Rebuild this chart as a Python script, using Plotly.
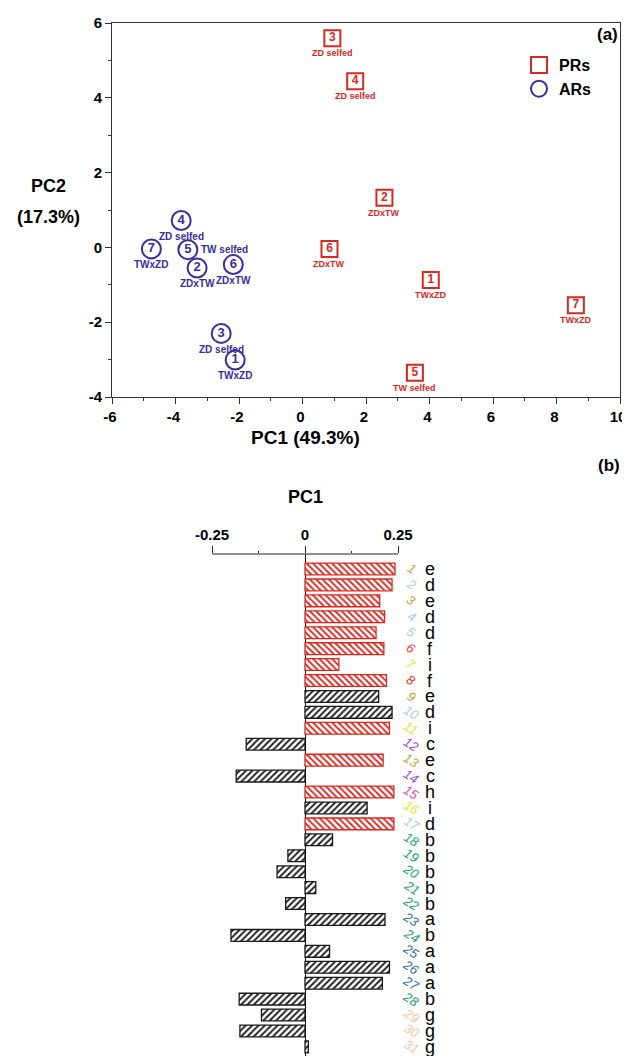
import plotly.graph_objects as go

# ---------------- (a) PCA score plot ----------------
pr_ids = ["1", "2", "3", "4", "5", "6", "7"]
pr_x = [4.04, 2.58, 0.94, 1.66, 3.54, 0.85, 8.61]
pr_y = [-0.87, 1.33, 5.59, 4.44, -3.35, -0.04, -1.55]
pr_lab = ["TWxZD", "ZDxTW", "ZD selfed", "ZD selfed", "TW selfed", "ZDxTW", "TWxZD"]

ar_ids = ["1", "2", "3", "4", "5", "6", "7"]
ar_x = [-2.12, -3.32, -2.56, -3.82, -3.61, -2.18, -4.76]
ar_y = [-3.01, -0.55, -2.30, 0.72, -0.06, -0.46, -0.04]
ar_lab = ["TWxZD", "ZDxTW", "ZD selfed", "ZD selfed", "TW selfed", "ZDxTW", "TWxZD"]

x_ticks = [-6, -4, -2, 0, 2, 4, 6, 8, 10]
y_ticks = [-4, -2, 0, 2, 4, 6]

# ---------------- (b) PC1 loadings ----------------
rows = list(range(1, 32))
pc1 = [0.242, 0.234, 0.201, 0.214, 0.191, 0.212, 0.091, 0.219, 0.198, 0.234,
       0.227, -0.158, 0.210, -0.185, 0.239, 0.167, 0.239, 0.074, -0.046, -0.075,
       0.029, -0.052, 0.215, -0.199, 0.066, 0.227, 0.208, -0.177, -0.117, -0.175,
       0.009]
is_red = [1, 1, 1, 1, 1, 1, 1, 1, 0, 0, 1, 0, 1, 0, 1, 0, 1, 0, 0, 0,
          0, 0, 0, 0, 0, 0, 0, 0, 0, 0, 0]
letters = ["e", "d", "e", "d", "d", "f", "i", "f", "e", "d", "i", "c", "e", "c",
           "h", "i", "d", "b", "b", "b", "b", "b", "a", "b", "a", "a", "a", "b",
           "g", "g", "g"]
gold, lblue, red_n, yel, purp, pink, grn, sblue, peach = (
    "#c9a033", "#a9cbea", "#e8352b", "#f2e233", "#9c4fc4", "#e2479a",
    "#1aa36a", "#2f6e9c", "#f7c3a3")
num_colors = [gold, lblue, gold, lblue, lblue, red_n, yel, red_n, gold, lblue,
              yel, purp, gold, purp, pink, yel, lblue, grn, grn, grn,
              grn, grn, sblue, grn, sblue, sblue, sblue, grn, peach, peach, peach]
b_ticks = [-0.25, 0, 0.25]
b_ticktext = ["-0.25", "0", "0.25"]

RED = "#d9281f"
BLUE = "#3a2e9e"
FONT = "Liberation Sans, Arial, sans-serif"

# the page body adds an 8px margin, so the figure occupies 8..630 x 8..1056
OFF = 8
W, H = 630 - OFF, 1056 - OFF


def fx(X):
    return (X - OFF) / W


def fy(Y):
    return 1 - (Y - OFF) / H


fig = go.Figure()

fig.add_trace(go.Scatter(
    x=pr_x, y=pr_y, mode="markers+text", name="PRs", text=pr_ids,
    textposition="middle center",
    textfont=dict(family=FONT, size=12, color=RED, weight="bold"),
    marker=dict(symbol="square-open", size=16, color=RED, line=dict(width=2, color=RED)),
    xaxis="x", yaxis="y", cliponaxis=False))
fig.add_trace(go.Scatter(
    x=ar_x, y=ar_y, mode="markers+text", name="ARs", text=ar_ids,
    textposition="middle center",
    textfont=dict(family=FONT, size=13, color=BLUE, weight="bold"),
    marker=dict(symbol="circle-open", size=19, color=BLUE, line=dict(width=2, color=BLUE)),
    xaxis="x", yaxis="y", cliponaxis=False))

annotations = []
for xv, yv, t in zip(pr_x, pr_y, pr_lab):
    annotations.append(dict(x=xv, y=yv, xref="x", yref="y", text=t, showarrow=False,
                            yshift=-15, font=dict(family=FONT, size=9, color=RED, weight="bold")))
for xv, yv, t in zip(ar_x, ar_y, ar_lab):
    if t == "TW selfed":
        annotations.append(dict(x=xv, y=yv, xref="x", yref="y", text=t, showarrow=False,
                                xanchor="left", xshift=11, yshift=0,
                                font=dict(family=FONT, size=10, color=BLUE, weight="bold")))
    else:
        annotations.append(dict(x=xv, y=yv, xref="x", yref="y", text=t, showarrow=False,
                                yshift=-16, font=dict(family=FONT, size=10, color=BLUE, weight="bold")))

# bars
bar_cols = [RED if r else "#1a1a1a" for r in is_red]
bar_shapes = ["\\" if r else "/" for r in is_red]
fig.add_trace(go.Bar(
    x=pc1, y=rows, orientation="h", width=0.74, showlegend=False,
    marker=dict(color="white", line=dict(color=bar_cols, width=1.3),
                pattern=dict(shape=bar_shapes, fgcolor=bar_cols, bgcolor="white",
                             size=4.5, solidity=0.4)),
    xaxis="x2", yaxis="y2"))

for r, c, L in zip(rows, num_colors, letters):
    annotations.append(dict(x=0.286, y=r, xref="x2", yref="y2", text="<i>%d</i>" % r,
                            showarrow=False, textangle=32, xanchor="center", yanchor="middle",
                            font=dict(family=FONT, size=13, color=c)))
    annotations.append(dict(x=0.337, y=r, xref="x2", yref="y2", text=L, showarrow=False,
                            xanchor="center", yanchor="middle",
                            font=dict(family=FONT, size=18, color="black")))


def lab(X, Y, text, size):
    return dict(x=fx(X), y=fy(Y), xref="paper", yref="paper", text=text,
                showarrow=False, xanchor="center", yanchor="middle",
                font=dict(family=FONT, size=size, color="black", weight="bold"))


# panel labels / titles
annotations += [
    lab(607, 34, "(a)", 17),
    lab(609, 465, "(b)", 17),
    lab(48, 186, "PC2", 18),
    lab(48, 217, "(17.3%)", 18),
    lab(305, 437, "PC1 (49.3%)", 19),
    lab(305, 497, "PC1", 18),
]

tickfont = dict(family=FONT, size=15, color="black", weight="bold")
fig.update_layout(
    template="none",
    width=W, height=H, margin=dict(l=0, r=0, t=0, b=0, autoexpand=False),
    paper_bgcolor="white", plot_bgcolor="white",
    font=dict(family=FONT),
    xaxis=dict(domain=[fx(112), fx(620)], range=[-6, 10], tickvals=x_ticks,
               ticktext=[str(v) for v in x_ticks],
               ticks="outside", ticklen=6, tickwidth=1, tickcolor="#333",
               showline=True, linecolor="#333", linewidth=1, mirror=True,
               showgrid=False, zeroline=False, tickfont=tickfont, automargin=False,
               ticklabelshift=-2,
               minor=dict(tickvals=[-5, -3, -1, 1, 3, 5, 7, 9], ticks="outside",
                          ticklen=3, tickcolor="#333"),
               anchor="y"),
    yaxis=dict(domain=[fy(397), fy(23)], range=[-4, 6], tickvals=y_ticks,
               ticktext=[str(v) for v in y_ticks],
               ticks="outside", ticklen=6, tickwidth=1, tickcolor="#333",
               showline=True, linecolor="#333", linewidth=1, mirror=True,
               showgrid=False, zeroline=False, tickfont=tickfont, automargin=False,
               minor=dict(tickvals=[-3, -1, 1, 3, 5], ticks="outside",
                          ticklen=3, tickcolor="#333"),
               anchor="x"),
    xaxis2=dict(domain=[fx(119), fx(491)], range=[-0.5, 0.5], side="top",
                tickvals=b_ticks, ticktext=b_ticktext,
                ticks="outside", ticklen=7, tickcolor="#222", tickwidth=1,
                showline=False, showgrid=False, zeroline=True, zerolinecolor="#111",
                zerolinewidth=1.3, tickfont=tickfont, automargin=False,
                minor=dict(tickvals=[-0.125, 0.125], ticks="outside", ticklen=2,
                           tickcolor="#222"),
                anchor="y2"),
    yaxis2=dict(domain=[0, fy(554)], range=[31.57, 0.06], showticklabels=False,
                ticks="", showline=False, showgrid=False, zeroline=False,
                automargin=False, anchor="x2"),
    bargap=0.2,
    legend=dict(x=fx(519), y=fy(48), xanchor="left", yanchor="top",
                font=dict(family=FONT, size=16, color="black", weight="bold"),
                bgcolor="rgba(0,0,0,0)", tracegroupgap=0, itemwidth=30),
    annotations=annotations,
    shapes=[dict(type="line", xref="x2", yref="paper", x0=-0.25, x1=0.25,
                 y0=fy(554), y1=fy(554), line=dict(color="#222", width=1))],
)

fig.write_html("out.html")
